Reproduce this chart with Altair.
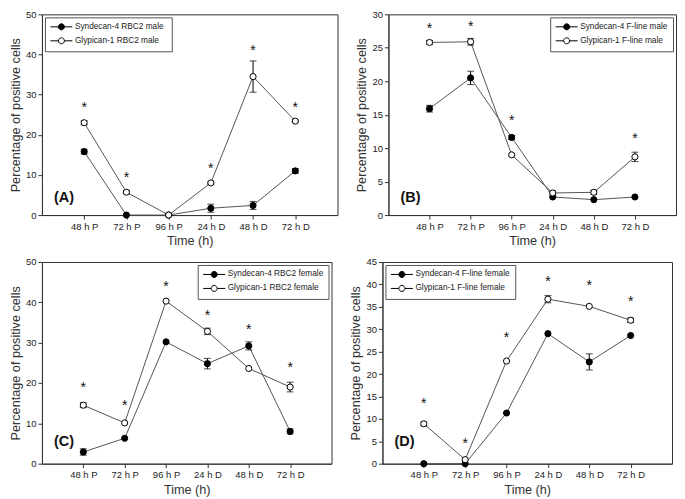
import altair as alt
import pandas as pd

categories = ["48 h P", "72 h P", "96 h P", "24 h D", "48 h D", "72 h D"]

# Panel A
a_series = ["Syndecan-4  RBC2 male", "Glypican-1  RBC2 male"]
a_syn = [15.8, 0.0, 0.0, 1.7, 2.4, 11.0]
a_syn_err = [0.6, 0.0, 0.0, 1.0, 1.0, 0.6]
a_gly = [23.0, 5.7, 0.0, 8.0, 34.5, 23.4]
a_gly_err = [0.5, 0.4, 0.0, 0.3, 3.9, 0.3]
a_star = [27.4, 10.0, None, 12.2, 41.6, 27.4]

# Panel B
b_series = ["Syndecan-4 F-line male", "Glypican-1 F-line male"]
b_syn = [15.9, 20.5, 11.6, 2.7, 2.3, 2.7]
b_syn_err = [0.5, 1.0, 0.3, 0.0, 0.0, 0.0]
b_gly = [25.8, 25.9, 9.0, 3.3, 3.4, 8.7]
b_gly_err = [0.3, 0.5, 0.0, 0.3, 0.3, 0.7]
b_star = [28.3, 28.6, 14.5, None, None, 11.8]

# Panel C
c_series = ["Syndecan-4 RBC2 female", "Glypican-1 RBC2 female"]
c_syn = [2.9, 6.3, 30.2, 24.8, 29.2, 8.0]
c_syn_err = [0.8, 0.0, 0.0, 1.3, 1.0, 0.6]
c_gly = [14.5, 10.1, 40.3, 32.8, 23.6, 19.0]
c_gly_err = [0.6, 0.0, 0.0, 0.8, 0.0, 1.2]
c_star = [19.6, 15.0, 44.6, 37.4, 33.9, 24.5]

# Panel D
d_series = ["Syndecan-4 F-line female", "Glypican-1 F-line female"]
d_syn = [0.0, 0.0, 11.3, 29.0, 22.7, 28.6]
d_syn_err = [0.0, 0.0, 0.0, 0.0, 1.8, 0.0]
d_gly = [8.9, 0.9, 22.9, 36.7, 35.1, 32.0]
d_gly_err = [0.4, 0.0, 0.0, 0.8, 0.0, 0.5]
d_star = [14.0, 5.0, 28.7, 41.1, 40.2, 36.7]

FONT = "Liberation Sans"
LEG_SYMBOL = "M-1,0H1M2.5,0H4.5M2.5,0A0.75,0.75,0,1,1,1,0A0.75,0.75,0,1,1,2.5,0Z"


def panel(series, syn, syn_err, gly, gly_err, stars, ymax, ystep, label,
          legend_orient, w, h, label_up):
    rows = []
    for s, vals, errs in [(series[0], syn, syn_err), (series[1], gly, gly_err)]:
        for c, v, e in zip(categories, vals, errs):
            rows.append(dict(time=c, series=s, value=v, err=e, lo=v - e, hi=v + e))
    df = pd.DataFrame(rows)
    sdf = pd.DataFrame([dict(time=c, y=v, t="*") for c, v in zip(categories, stars) if v is not None])

    x = alt.X("time:N", sort=categories,
              scale=alt.Scale(type="point", padding=1, domain=categories),
              axis=alt.Axis(title="Time (h)", labelAngle=0, labelPadding=2, titlePadding=4,
                            titleFontWeight="normal"))
    yscale = alt.Scale(domain=[0, ymax], nice=False, zero=True)
    yaxis = alt.Axis(title="Percentage of positive cells",
                     values=list(range(0, ymax + 1, ystep)),
                     labelPadding=2, titlePadding=3, titleFontWeight="normal",
                     labelOverlap=False)
    y = alt.Y("value:Q", scale=yscale, axis=yaxis)

    base = alt.Chart(df)
    lines = base.mark_line(color="#555", strokeWidth=1).encode(x=x, y=y, detail="series:N")
    eb = base.transform_filter("datum.err > 0")
    rule = eb.mark_rule(color="black", strokeWidth=1).encode(
        x=x, y=alt.Y("lo:Q", scale=yscale, axis=yaxis), y2="hi:Q")
    cap_lo = eb.mark_tick(orient="horizontal", size=7, thickness=1, color="black").encode(
        x=x, y=alt.Y("lo:Q", scale=yscale, axis=yaxis))
    cap_hi = eb.mark_tick(orient="horizontal", size=7, thickness=1, color="black").encode(
        x=x, y=alt.Y("hi:Q", scale=yscale, axis=yaxis))
    pts = base.mark_point(shape="circle", size=38, filled=True, stroke="black",
                          strokeWidth=1, opacity=1, fillOpacity=1).encode(
        x=x, y=y,
        fill=alt.Fill("series:N", sort=series,
                      scale=alt.Scale(domain=series, range=["black", "white"]),
                      legend=alt.Legend(title=None, orient=legend_orient, offset=3,
                                        strokeColor="#555", fillColor="white",
                                        padding=5, labelFont=FONT, labelFontSize=8.3,
                                        labelColor="#222", symbolType=LEG_SYMBOL,
                                        symbolSize=64, symbolStrokeColor="black",
                                        symbolStrokeWidth=1, labelOffset=16,
                                        rowPadding=3)))
    star = alt.Chart(sdf).mark_text(fontSize=14, color="#111", baseline="middle",
                                    font=FONT, dy=3).encode(
        x=x, y=alt.Y("y:Q", scale=yscale, axis=yaxis), text="t:N")
    lab = alt.Chart(pd.DataFrame({"t": [label]})).mark_text(
        fontSize=14.5, fontWeight="bold", align="left", baseline="middle",
        font=FONT, color="#111").encode(
        text="t:N", x=alt.value(12), y=alt.value(h - label_up))
    return alt.layer(lines, rule, cap_lo, cap_hi, pts, star, lab).properties(width=w, height=h)


A = panel(a_series, a_syn, a_syn_err, a_gly, a_gly_err, a_star, 50, 10, "(A)", "top-left", 296, 201, 17)
B = panel(b_series, b_syn, b_syn_err, b_gly, b_gly_err, b_star, 30, 5, "(B)", "top-right", 288, 201, 17)
C = panel(c_series, c_syn, c_syn_err, c_gly, c_gly_err, c_star, 50, 10, "(C)", "top-right", 290, 202, 22)
D = panel(d_series, d_syn, d_syn_err, d_gly, d_gly_err, d_star, 45, 5, "(D)", "top-left", 290, 202, 22)

row1 = alt.hconcat(A, B, spacing=16).resolve_scale(fill="independent", y="independent")
row2 = alt.hconcat(C, D, spacing=16).resolve_scale(fill="independent", y="independent")

chart = alt.vconcat(row1, row2, spacing=8).resolve_scale(
    fill="independent", y="independent"
).properties(padding=0).configure(font=FONT).configure_view(
    stroke="#333", strokeWidth=1
).configure_axis(
    labelFont=FONT, titleFont=FONT, labelFontSize=9.5, titleFontSize=12.7,
    titleFontWeight="normal", tickSize=4, grid=False, domainColor="#333",
    tickColor="#333", labelColor="#222", titleColor="#333"
)

chart.save("out.html", embed_options={"renderer": "svg", "actions": False})
